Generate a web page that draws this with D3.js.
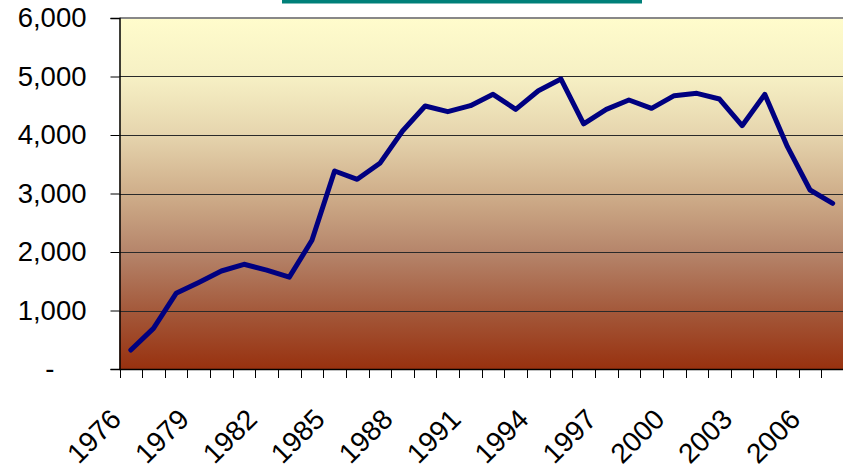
<!DOCTYPE html>
<html>
<head>
<meta charset="utf-8">
<script src="https://cdn.jsdelivr.net/npm/d3@7"></script>
<style>
  body { margin: 0; background: #fff; }
  svg { display: block; }
</style>
</head>
<body>
<script>
const years = d3.range(1976, 2008);
const values = [325, 695, 1294, 1480, 1675, 1790, 1690, 1570, 2200, 3385,
                3243, 3516, 4068, 4496, 4399, 4501, 4695, 4439, 4757, 4957,
                4190, 4439, 4598, 4456, 4672, 4712, 4615, 4159, 4695, 3800,
                3060, 2832];
const yTicks = [0, 1000, 2000, 3000, 4000, 5000, 6000];
const xLabelYears = [1976, 1979, 1982, 1985, 1988, 1991, 1994, 1997, 2000, 2003, 2006];

const W = 843, H = 469;
const plotL = 119.5, plotR = 844, plotT = 18, plotB = 369;

const svg = d3.select('body').append('svg').attr('width', W).attr('height', H);

// gradient fill for the plot area
const grad = svg.append('defs').append('linearGradient')
    .attr('id', 'bg').attr('x1', 0).attr('y1', 0).attr('x2', 0).attr('y2', 1);
[[0, '#FFFCCC'], [0.17, '#F6F0C4'], [0.33, '#E6D5AE'], [0.5, '#CFAE8A'],
 [0.67, '#B5846A'], [0.83, '#A45A3C'], [1, '#98310F']]
  .forEach(s => grad.append('stop').attr('offset', s[0]).attr('stop-color', s[1]));

// title box, clipped at top
svg.append('rect').attr('x', 282).attr('y', 0).attr('width', 360).attr('height', 3.5).attr('fill', '#008079');

const x = d3.scaleBand().domain(years).range([plotL, plotR]);
const y = d3.scaleLinear().domain([0, 6000]).range([plotB, plotT]);

svg.append('rect').attr('x', plotL).attr('y', plotT).attr('width', plotR - plotL).attr('height', plotB - plotT)
    .attr('fill', 'url(#bg)');
svg.append('line').attr('x1', plotL).attr('x2', plotR).attr('y1', plotT).attr('y2', plotT)
    .attr('stroke', '#888').attr('stroke-width', 2);

// gridlines
svg.append('g').selectAll('line').data(yTicks.filter(d => d > 0 && d < 6000)).enter()
  .append('line')
    .attr('x1', plotL).attr('x2', plotR)
    .attr('y1', d => Math.round(y(d)) + 0.5).attr('y2', d => Math.round(y(d)) + 0.5)
    .attr('stroke', '#2a2a2a').attr('stroke-width', 1);

// y axis (accounting style: zero shown as a dash)
const yAxis = svg.append('g').attr('transform', `translate(${plotL},0)`)
    .call(d3.axisLeft(y).tickValues(yTicks).tickSize(9).tickPadding(24)
      .tickFormat(d => d === 0 ? '-' : d3.format(',')(d)));
yAxis.select('.domain').attr('stroke', '#000').attr('stroke-width', 1.5);
yAxis.selectAll('.tick line').attr('stroke', '#000');
yAxis.selectAll('text').attr('font-family', 'Liberation Sans, Arial, sans-serif')
    .attr('font-size', 27.5).attr('fill', '#000')
    .attr('dx', d => d === 0 ? -32 : 0);

// x axis: ticks between categories
const xAxis = svg.append('g').attr('transform', `translate(0,${plotB})`);
xAxis.append('line').attr('x1', plotL).attr('x2', plotR).attr('y1', 0.5).attr('y2', 0.5)
    .attr('stroke', '#000').attr('stroke-width', 1.5);
xAxis.selectAll('.tk').data(years).enter().append('line')
    .attr('x1', d => Math.round(x(d)) + 0.5).attr('x2', d => Math.round(x(d)) + 0.5)
    .attr('y1', 0).attr('y2', 9).attr('stroke', '#000');
xAxis.selectAll('.lbl').data(xLabelYears).enter().append('text')
    .attr('transform', d => `translate(${x(d) + x.bandwidth() / 2 - 8},52) rotate(-45)`)
    .attr('text-anchor', 'end')
    .attr('font-family', 'Liberation Sans, Arial, sans-serif')
    .attr('font-size', 28).attr('fill', '#000')
    .text(d => d);

// data line
const line = d3.line()
    .x((d, i) => x(years[i]) + x.bandwidth() / 2)
    .y(d => y(d));
svg.append('path').datum(values)
    .attr('d', line)
    .attr('fill', 'none')
    .attr('stroke', '#000080')
    .attr('stroke-width', 5)
    .attr('stroke-linejoin', 'round')
    .attr('stroke-linecap', 'round');
</script>
</body>
</html>
